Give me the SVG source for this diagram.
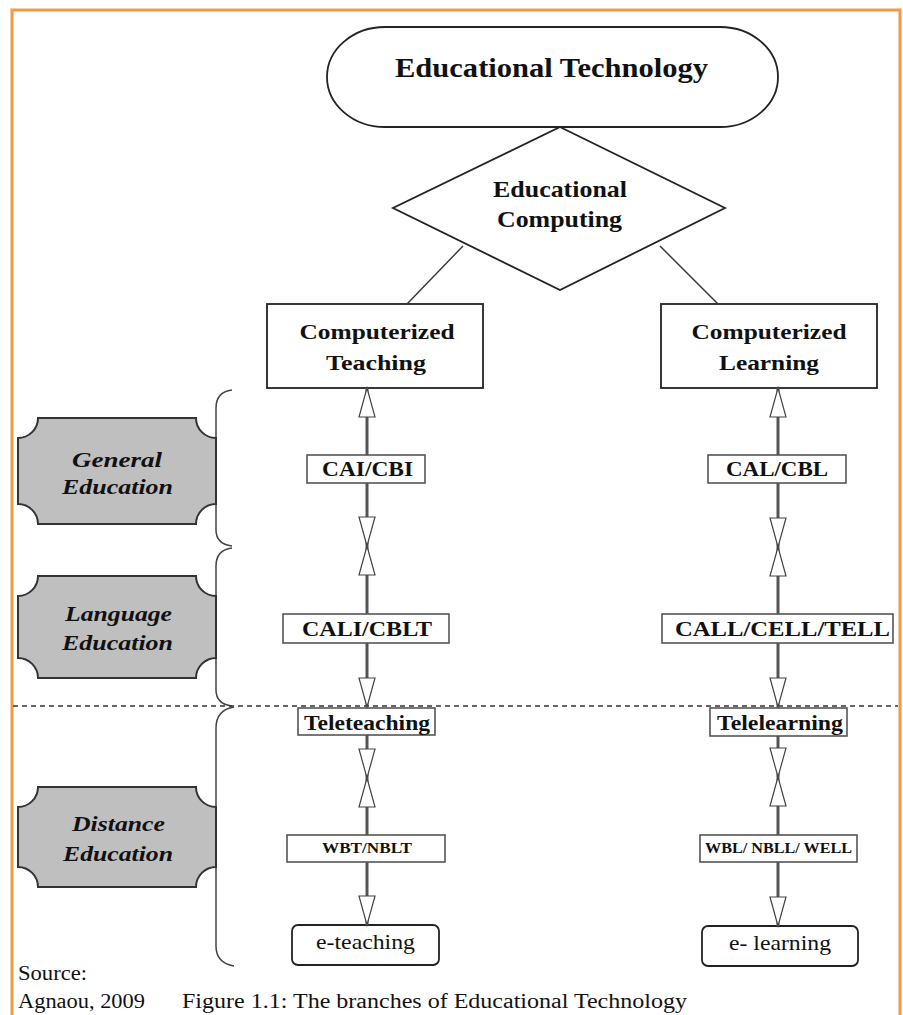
<svg xmlns="http://www.w3.org/2000/svg" width="903" height="1015" viewBox="0 0 903 1015">
<defs>
<style>
.frame{fill:none;stroke:#F79646;stroke-width:3}
.box{fill:#fff;stroke:#222;stroke-width:1.8}
.lbl{fill:#fff;stroke:#555;stroke-width:1.6}
.tag{fill:#BFBFBF;stroke:#333;stroke-width:2}
.brace{fill:none;stroke:#444;stroke-width:1.5}
.link{fill:none;stroke:#333;stroke-width:1.4}
.conn{fill:none;stroke:#555;stroke-width:3;marker-end:url(#ah)}
.dash{fill:none;stroke:#333;stroke-width:1.3;stroke-dasharray:5 4}
text{font-family:"Liberation Serif","Times New Roman",serif;fill:#111;text-anchor:middle}
.b{font-weight:bold}
.bi{font-weight:bold;font-style:italic}
.l{text-anchor:start}
</style>
<marker id="ah" markerUnits="userSpaceOnUse" viewBox="-1 -1 32 18" markerWidth="32" markerHeight="18" refX="29" refY="8" orient="auto">
<path d="M0,0 L29,8 L0,16 Z" fill="#fff" stroke="#444" stroke-width="1.2"/>
</marker>
</defs>
<rect width="903" height="1015" fill="#fff"/>
<rect class="frame" x="12" y="10" width="888" height="1010"/>

<g id="edtech">
<rect class="box" x="327" y="27" width="451" height="100" rx="58" ry="50"/>
<text class="b" x="551.5" y="77" font-size="28" textLength="313" lengthAdjust="spacingAndGlyphs">Educational Technology</text>
</g>
<g id="edcomp">
<polygon class="box" points="560,127 725,208 560,290 393,208"/>
<text class="b" x="560" y="197" font-size="23" textLength="134" lengthAdjust="spacingAndGlyphs">Educational</text>
<text class="b" x="559.5" y="227" font-size="23" textLength="125" lengthAdjust="spacingAndGlyphs">Computing</text>
</g>
<g id="comp-teaching">
<rect class="box" x="267" y="304" width="216" height="84"/>
<text class="b" x="377" y="339" font-size="22" textLength="155" lengthAdjust="spacingAndGlyphs">Computerized</text>
<text class="b" x="376" y="370" font-size="22" textLength="100" lengthAdjust="spacingAndGlyphs">Teaching</text>
</g>
<g id="comp-learning">
<rect class="box" x="661" y="304" width="216" height="84"/>
<text class="b" x="769" y="339" font-size="22" textLength="155" lengthAdjust="spacingAndGlyphs">Computerized</text>
<text class="b" x="769" y="370" font-size="22" textLength="100" lengthAdjust="spacingAndGlyphs">Learning</text>
</g>

<g id="braces">
<path class="brace" d="M232,390 Q216,392 216,408 L216,462 Q216,471 212,471 Q216,471 216,480 L216,530 Q216,544 232,546"/>
<path class="brace" d="M232,548 Q216,550 216,566 L216,618 Q216,627 212,627 Q216,627 216,636 L216,690 Q216,704 232,706"/>
<path class="brace" d="M234,707 Q216,710 216,728 L216,828 Q216,837 212,837 Q216,837 216,846 L216,946 Q216,963 234,966"/>
</g>

<g id="general-ed">
<path class="tag" d="M38,418 L196,418 A20,20 0 0 0 216,438 L216,504 A20,20 0 0 0 196,524 L38,524 A20,20 0 0 0 18,504 L18,438 A20,20 0 0 0 38,418 Z"/>
<text class="bi" x="117" y="467" font-size="22" textLength="90" lengthAdjust="spacingAndGlyphs">General</text>
<text class="bi" x="117.5" y="494" font-size="22" textLength="111" lengthAdjust="spacingAndGlyphs">Education</text>
</g>
<g id="language-ed">
<path class="tag" d="M38,576 L196,576 A20,20 0 0 0 216,596 L216,658 A20,20 0 0 0 196,678 L38,678 A20,20 0 0 0 18,658 L18,596 A20,20 0 0 0 38,576 Z"/>
<text class="bi" x="118.5" y="621" font-size="22" textLength="107" lengthAdjust="spacingAndGlyphs">Language</text>
<text class="bi" x="117.5" y="650" font-size="22" textLength="111" lengthAdjust="spacingAndGlyphs">Education</text>
</g>
<g id="distance-ed">
<path class="tag" d="M38,787 L196,787 A20,20 0 0 0 216,807 L216,867 A20,20 0 0 0 196,887 L38,887 A20,20 0 0 0 18,867 L18,807 A20,20 0 0 0 38,787 Z"/>
<text class="bi" x="118.5" y="831" font-size="22" textLength="93" lengthAdjust="spacingAndGlyphs">Distance</text>
<text class="bi" x="118" y="861" font-size="22" textLength="110" lengthAdjust="spacingAndGlyphs">Education</text>
</g>

<line class="dash" x1="13" y1="706" x2="898" y2="706"/>

<g id="cai">
<rect class="lbl" x="307" y="455" width="118" height="28"/>
<text class="b" x="367.5" y="476" font-size="20" textLength="91" lengthAdjust="spacingAndGlyphs">CAI/CBI</text>
</g>
<g id="cal">
<rect class="lbl" x="708" y="455" width="138" height="28"/>
<text class="b" x="777" y="476" font-size="20" textLength="102" lengthAdjust="spacingAndGlyphs">CAL/CBL</text>
</g>
<g id="cali">
<rect class="lbl" x="283" y="614" width="166" height="29"/>
<text class="b" x="367" y="636" font-size="20" textLength="130" lengthAdjust="spacingAndGlyphs">CALI/CBLT</text>
</g>
<g id="call">
<rect class="lbl" x="662" y="614" width="231" height="29"/>
<text class="b" x="782.5" y="636" font-size="20" textLength="215" lengthAdjust="spacingAndGlyphs">CALL/CELL/TELL</text>
</g>
<g id="teleteaching">
<rect class="lbl" x="298" y="708" width="137" height="27"/>
<text class="b" x="367" y="730" font-size="20" textLength="126" lengthAdjust="spacingAndGlyphs">Teleteaching</text>
</g>
<g id="telelearning">
<rect class="lbl" x="710" y="708" width="137" height="28"/>
<text class="b" x="780" y="730" font-size="20" textLength="126" lengthAdjust="spacingAndGlyphs">Telelearning</text>
</g>
<g id="wbt">
<rect class="lbl" x="287" y="835" width="158" height="27"/>
<text class="b" x="367" y="853" font-size="14" textLength="90" lengthAdjust="spacingAndGlyphs">WBT/NBLT</text>
</g>
<g id="wbl">
<rect class="lbl" x="700" y="835" width="157" height="27"/>
<text class="b" x="778.5" y="853" font-size="14" textLength="147" lengthAdjust="spacingAndGlyphs">WBL/ NBLL/ WELL</text>
</g>
<g id="eteaching">
<rect class="box" x="292" y="925" width="147" height="40" rx="6" stroke-width="1.4"/>
<text x="365.5" y="949" font-size="22" textLength="99" lengthAdjust="spacingAndGlyphs">e-teaching</text>
</g>
<g id="elearning">
<rect class="box" x="702" y="926" width="156" height="40" rx="6" stroke-width="1.4"/>
<text x="780" y="950" font-size="22" textLength="102" lengthAdjust="spacingAndGlyphs">e- learning</text>
</g>

<g id="connectors">
<line class="link" x1="463" y1="246" x2="407" y2="304"/>
<line class="link" x1="660" y1="246" x2="718" y2="304"/>
<path class="conn" d="M367,455 L367,388"/>
<path class="conn" d="M367,483 L367,546"/>
<path class="conn" d="M367,614 L367,546"/>
<path class="conn" d="M367,643 L367,707"/>
<path class="conn" d="M367,735 L367,778"/>
<path class="conn" d="M367,835 L367,778"/>
<path class="conn" d="M367,862 L367,925"/>
<path class="conn" d="M778,455 L778,388"/>
<path class="conn" d="M778,483 L778,547"/>
<path class="conn" d="M778,614 L778,547"/>
<path class="conn" d="M778,643 L778,707"/>
<path class="conn" d="M778,736 L778,777"/>
<path class="conn" d="M778,835 L778,777"/>
<path class="conn" d="M778,862 L778,926"/>
</g>

<g id="caption">
<text class="l" x="18" y="980" font-size="20" textLength="69" lengthAdjust="spacingAndGlyphs">Source:</text>
<text class="l" x="18" y="1008" font-size="20" textLength="127" lengthAdjust="spacingAndGlyphs">Agnaou, 2009</text>
<text class="l" x="182" y="1008" font-size="20" textLength="505" lengthAdjust="spacingAndGlyphs">Figure 1.1: The branches of Educational Technology</text>
</g>
</svg>
